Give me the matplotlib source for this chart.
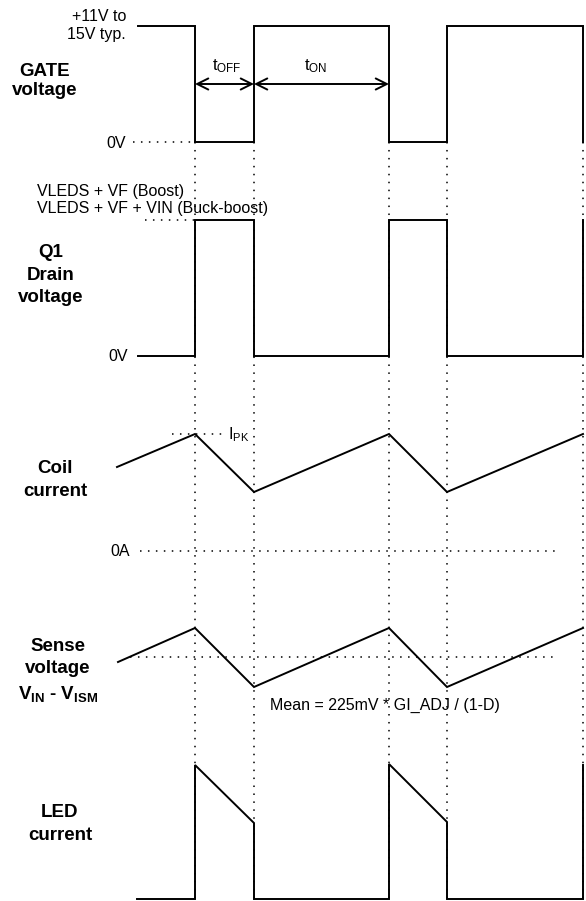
"""
Boost / buck-boost LED driver timing diagram
"""

import matplotlib.pyplot as plt

plt.rcParams['font.family'] = ['Liberation Sans', 'DejaVu Sans']
plt.rcParams['mathtext.fontset'] = 'custom'
plt.rcParams['mathtext.rm'] = 'Liberation Sans'
plt.rcParams['mathtext.it'] = 'Liberation Sans'
plt.rcParams['mathtext.bf'] = 'Liberation Sans:bold'

# switching instants shared by every trace (diagram units, y grows downwards)
edges = [195, 254, 389, 447, 583]

# GATE voltage
gate_t = [138, 195, 195, 254, 254, 389, 389, 447, 447, 583, 583]
gate_y = [26, 26, 142, 142, 26, 26, 142, 142, 26, 26, 142]

# Q1 drain voltage
drain_t = [138, 195, 195, 254, 254, 389, 389, 447, 447, 583, 583]
drain_y = [356, 356, 220, 220, 356, 356, 220, 220, 356, 356, 220]

# coil current
coil_t = [117, 195, 254, 389, 447, 583]
coil_y = [467, 434, 492, 434, 492, 434]

# sense voltage
sense_t = [118, 195, 254, 389, 447, 583]
sense_y = [662, 628, 687, 628, 687, 628]

# LED current
led_t = [137, 195, 195, 254, 254, 389, 389, 447, 447, 583, 583]
led_y = [899, 899, 765, 823, 899, 899, 764, 822, 899, 899, 765]

# dotted reference levels: (y, x_from, x_to)
ref_levels = [(142, 133, 195), (220, 145, 195), (434, 172, 225),
              (551, 140, 560), (657, 130, 558)]

fig = plt.figure(figsize=(5.86, 9.01), dpi=100)
ax = fig.add_axes([0, 0, 1, 1])
ax.set_xlim(0, 586)
ax.set_ylim(901, 0)
ax.axis('off')

dot = dict(color='black', lw=1.1, linestyle=(0, (1, 4.2)), zorder=1)
for x in edges:
    ax.plot([x, x], [142, 899], **dot)
for y, x0, x1 in ref_levels:
    ax.plot([x0, x1], [y, y], **dot)

solid = dict(color='black', lw=1.4, zorder=3, solid_joinstyle='miter')
for t, y in [(gate_t, gate_y), (drain_t, drain_y), (coil_t, coil_y),
             (sense_t, sense_y), (led_t, led_y)]:
    ax.plot(t, y, **solid)

# t_OFF / t_ON arrows
arr = dict(arrowstyle='<->,head_length=0.8,head_width=0.4', lw=1.4,
           color='black', shrinkA=0, shrinkB=0, mutation_scale=10)
ax.annotate('', xy=(edges[0], 84), xytext=(edges[1], 84), arrowprops=arr)
ax.annotate('', xy=(edges[1], 84), xytext=(edges[2], 84), arrowprops=arr)
ax.text(212, 70, r'$\mathrm{t_{OFF}}$', fontsize=12, va='baseline')
ax.text(304, 70, r'$\mathrm{t_{ON}}$', fontsize=12, va='baseline')

fs = 11.5
ax.text(126, 21, '+11V to', fontsize=fs, ha='right', va='baseline')
ax.text(126, 38.5, '15V typ.', fontsize=fs, ha='right', va='baseline')
ax.text(126, 148, '0V', fontsize=fs, ha='right', va='baseline')
ax.text(37, 196, 'VLEDS + VF (Boost)', fontsize=fs, va='baseline')
ax.text(37, 212.5, 'VLEDS + VF + VIN (Buck-boost)', fontsize=fs, va='baseline')
ax.text(128, 361, '0V', fontsize=fs, ha='right', va='baseline')
ax.text(228, 439, r'$\mathrm{I_{PK}}$', fontsize=fs, va='baseline')
ax.text(130, 555.7, '0A', fontsize=fs, ha='right', va='baseline')
ax.text(270, 710, 'Mean = 225mV * GI_ADJ / (1-D)', fontsize=fs, va='baseline')

# row titles: (x_center, [(baseline, text), ...])
bfs = 13.5
titles = [
    (45, [(76, 'GATE'), (95, 'voltage')]),
    (51, [(257, 'Q1'), (279.5, 'Drain'), (302, 'voltage')]),
    (55, [(473, 'Coil'), (496, 'current')]),
    (58, [(651, 'Sense'), (673, 'voltage'),
          (698.5, r'$\mathbf{V_{IN}}$ - $\mathbf{V_{ISM}}$')]),
    (60, [(817, 'LED'), (839.5, 'current')]),
]
for xc, lines in titles:
    for yb, s in lines:
        ax.text(xc, yb, s, fontsize=bfs, fontweight='bold',
                ha='center', va='baseline')

fig.savefig('out.png', dpi=100)
